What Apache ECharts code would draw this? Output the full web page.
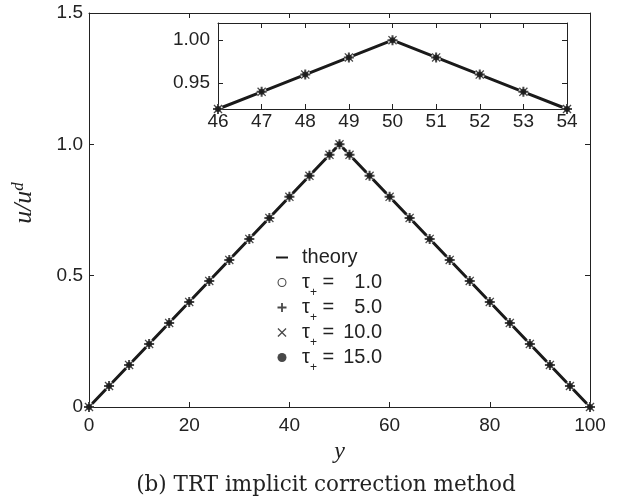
<!DOCTYPE html>
<html><head><meta charset="utf-8">
<script src="https://cdn.jsdelivr.net/npm/echarts@6/dist/echarts.min.js"></script>
<style>html,body{margin:0;padding:0;background:#fff}#c{width:635px;height:502px}</style>
</head><body><div id="c"></div>
<script>
// ---- data ----
const yMarkers = [0,4,8,12,16,20,24,28,32,36,40,44,48,50,52,56,60,64,68,72,76,80,84,88,92,96,100];
const uTau1  = [0,0.08,0.16,0.24,0.32,0.40,0.48,0.56,0.64,0.72,0.80,0.88,0.96,1.00,0.96,0.88,0.80,0.72,0.64,0.56,0.48,0.40,0.32,0.24,0.16,0.08,0];
const uTau5  = [0,0.08,0.16,0.24,0.32,0.40,0.48,0.56,0.64,0.72,0.80,0.88,0.96,1.00,0.96,0.88,0.80,0.72,0.64,0.56,0.48,0.40,0.32,0.24,0.16,0.08,0];
const uTau10 = [0,0.08,0.16,0.24,0.32,0.40,0.48,0.56,0.64,0.72,0.80,0.88,0.96,1.00,0.96,0.88,0.80,0.72,0.64,0.56,0.48,0.40,0.32,0.24,0.16,0.08,0];
const uTau15 = [0,0.08,0.16,0.24,0.32,0.40,0.48,0.56,0.64,0.72,0.80,0.88,0.96,1.00,0.96,0.88,0.80,0.72,0.64,0.56,0.48,0.40,0.32,0.24,0.16,0.08,0];
const yTheory = [0,50,100];
const uTheory = [0,1,0];
const yInset = [46,47,48,49,50,51,52,53,54];
const uInsetTheory = [0.92,0.94,0.96,0.98,1.00,0.98,0.96,0.94,0.92];
const uInsetSim    = [0.92,0.94,0.96,0.98,1.00,0.98,0.96,0.94,0.92];
const tauLabels = ['1.0','5.0','10.0','15.0'];
const insetYTicks = [0.95,1.00];

const pairs = (xs, ys) => xs.map((x,i)=>[x,ys[i]]);
const ink = '#1a1a1a';
const txt = '#222';
const plusPath = 'path://M4,0H6V4H10V6H6V10H4V6H0V4H4Z';
const crossPath = 'path://M1,0L5,4L9,0L10,1L6,5L10,9L9,10L5,6L1,10L0,9L4,5L0,1Z';
const ringPath = 'path://M5,0A5,5 0 1 1 5,10A5,5 0 1 1 5,0ZM5,1.2A3.8,3.8 0 1 0 5,8.8A3.8,3.8 0 1 0 5,1.2Z';
const markerDefs = [
  {symbol:'emptyCircle', size:8, style:{color:'#fff', borderColor:ink, borderWidth:1}},
  {symbol:plusPath, size:10, style:{color:ink, borderWidth:0}},
  {symbol:crossPath, size:9, style:{color:ink, borderWidth:0}},
  {symbol:'circle', size:6, style:{color:ink, borderWidth:0}}
];
const simData = [uTau1,uTau5,uTau10,uTau15];
const simNames = ['t1','t5','t10','t15'];

const series = [];
series.push({type:'line', name:'theory', xAxisIndex:0, yAxisIndex:0, data:pairs(yTheory,uTheory),
  symbol:'none', itemStyle:{color:ink}, lineStyle:{color:ink, width:3}, z:3, silent:true});
simNames.forEach((n,i)=>{
  series.push({type:'scatter', name:n, xAxisIndex:0, yAxisIndex:0, data:pairs(yMarkers, simData[i]),
    symbol:markerDefs[i].symbol, symbolSize:markerDefs[i].size, itemStyle:markerDefs[i].style, z:4+i, silent:true});
});
series.push({type:'line', name:'insetTheory', xAxisIndex:2, yAxisIndex:2, data:pairs(yInset,uInsetTheory),
  symbol:'none', itemStyle:{color:ink}, lineStyle:{color:ink, width:3}, z:3, silent:true});
simNames.forEach((n,i)=>{
  series.push({type:'scatter', name:'inset_'+n, xAxisIndex:2, yAxisIndex:2, data:pairs(yInset, uInsetSim),
    symbol:markerDefs[i].symbol, symbolSize:markerDefs[i].size, itemStyle:markerDefs[i].style, z:4+i, silent:true});
});

const lbl = {fontFamily:'Liberation Sans', fontSize:19, color:txt};
const tick = {inside:true, length:5, lineStyle:{color:txt, width:1}};
const axLine = {show:true, onZero:false, lineStyle:{color:txt, width:1}};
const legendIcons = [ringPath, plusPath, crossPath, 'circle'];
const R = (extra)=>Object.assign({fontFamily:'Liberation Sans', fontSize:20, color:txt, lineHeight:26}, extra||{});

const chart = echarts.init(document.getElementById('c'), null, {renderer:'canvas'});
chart.setOption({
  animation:false,
  backgroundColor:'#fff',
  grid:[
    {left:89, right:45, top:13, bottom:95, show:false, outerBoundsMode:'none'},
    {left:218, right:68, top:23, bottom:393, show:true, backgroundColor:'#fff', borderWidth:0, outerBoundsMode:'none'}
  ],
  xAxis:[
    {gridIndex:0, type:'value', min:0, max:100, interval:20, position:'bottom',
     axisLine:axLine, axisTick:tick, splitLine:{show:false},
     axisLabel:Object.assign({margin:9}, lbl),
     name:'y', nameLocation:'middle', nameGap:27,
     nameTextStyle:{fontFamily:'Liberation Serif', fontStyle:'italic', fontSize:24, color:txt}},
    {gridIndex:0, type:'value', min:0, max:100, interval:20, position:'top',
     axisLine:axLine, axisTick:tick, splitLine:{show:false}, axisLabel:{show:false}},
    {gridIndex:1, type:'value', min:46, max:54, interval:1, position:'bottom',
     axisLine:axLine, axisTick:tick, splitLine:{show:false},
     axisLabel:Object.assign({margin:3}, lbl)},
    {gridIndex:1, type:'value', min:46, max:54, interval:1, position:'top',
     axisLine:axLine, axisTick:tick, splitLine:{show:false}, axisLabel:{show:false}}
  ],
  yAxis:[
    {gridIndex:0, type:'value', min:0, max:1.5, interval:0.5, position:'left',
     axisLine:axLine, axisTick:tick, splitLine:{show:false},
     axisLabel:Object.assign({margin:6, formatter:v=> v===0?'0':v.toFixed(1)}, lbl)},
    {gridIndex:0, type:'value', min:0, max:1.5, interval:0.5, position:'right',
     axisLine:axLine, axisTick:tick, splitLine:{show:false}, axisLabel:{show:false}},
    {gridIndex:1, type:'value', min:0.92, max:1.02, position:'left',
     axisLine:axLine, axisTick:Object.assign({customValues:insetYTicks}, tick), splitLine:{show:false},
     axisLabel:Object.assign({margin:8, customValues:insetYTicks, formatter:v=>v.toFixed(2)}, lbl)},
    {gridIndex:1, type:'value', min:0.92, max:1.02, position:'right',
     axisLine:axLine, axisTick:Object.assign({customValues:insetYTicks}, tick), splitLine:{show:false}, axisLabel:{show:false}}
  ],
  legend:{
    orient:'vertical', left:271, top:236, itemWidth:12, itemHeight:9, itemGap:-8,
    selectedMode:false, symbolKeepAspect:true,
    data:[{name:'theory', icon:'path://M0,0H12V2H0Z', itemStyle:{color:ink, borderWidth:0}}]
      .concat(simNames.map((n,i)=>({name:n, icon:legendIcons[i], itemStyle:{color:ink, borderWidth:0}}))),
    formatter:function(name){
      if(name==='theory') return '{a|theory}{s| }';
      const i = simNames.indexOf(name);
      return '{t|τ}{s|+}{e| =}{n|'+tauLabels[i]+'}';
    },
    textStyle:{fontFamily:'Liberation Sans', fontSize:20, color:txt,
      rich:{
        a:R({padding:[0,0,0,9]}),
        t:R({padding:[0,0,0,9]}),
        s:{fontFamily:'Liberation Sans', fontSize:12, color:txt, lineHeight:3, padding:[21,0,0,0]},
        e:R(),
        n:R({width:48, align:'right'})
      }}
  },
  graphic:[
    {type:'text', x:24, y:203, rotation:Math.PI/2,
     style:{text:'{a|u/u}{b|d}', align:'center', verticalAlign:'middle', textAlign:'center', textVerticalAlign:'middle',
       rich:{a:{fontFamily:'Liberation Serif', fontStyle:'italic', fontSize:26, fill:txt, color:txt, lineHeight:28},
             b:{fontFamily:'Liberation Serif', fontStyle:'italic', fontSize:17, fill:txt, color:txt, lineHeight:17, verticalAlign:'top'}}}},
    {type:'text', x:326, y:485,
     style:{text:'(b) TRT implicit correction method', align:'center', verticalAlign:'middle', textAlign:'center', textVerticalAlign:'middle',
       font:'21.5px "DejaVu Serif"', fill:txt}}
  ],
  series:series
});
</script></body></html>
